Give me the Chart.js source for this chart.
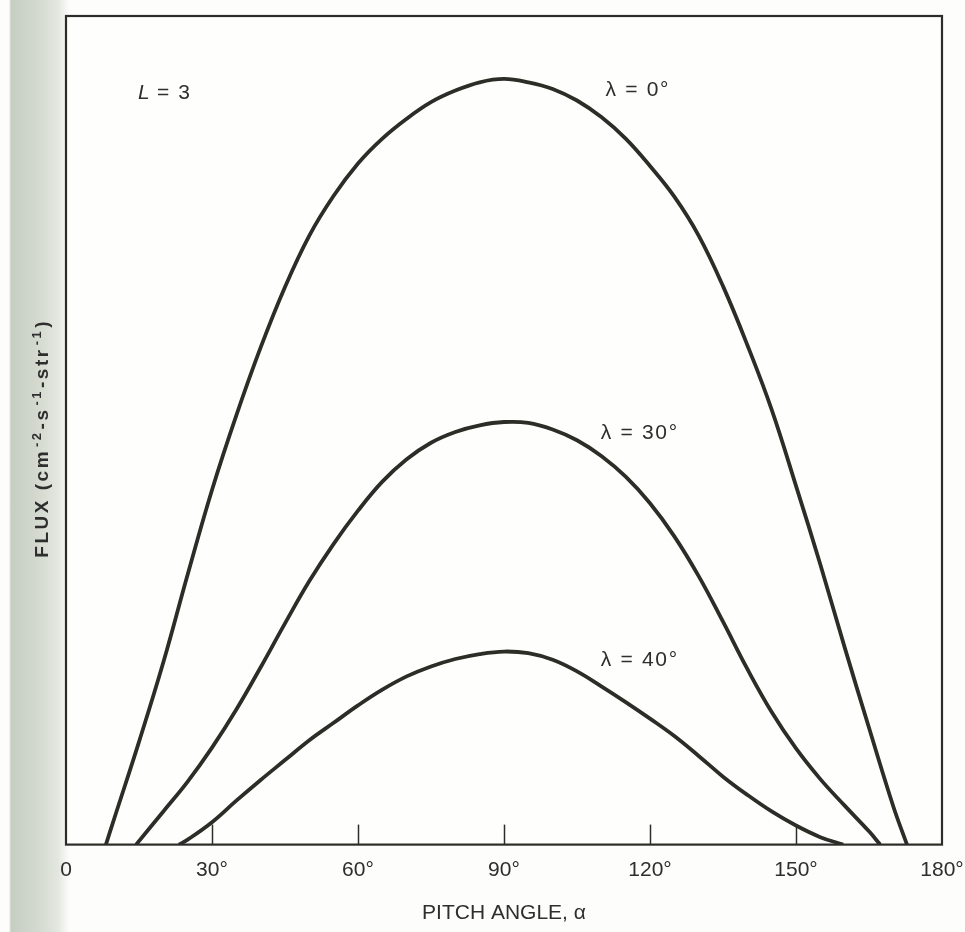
<!DOCTYPE html>
<html lang="en">
<head>
    <meta charset="UTF-8">
    <title>Pitch Angle Distribution</title>
    <script src="https://cdn.jsdelivr.net/npm/chart.js"></script>
    <style>
        body {
            margin: 0;
            background: linear-gradient(to right, #fdfdfb 0px, #fdfdfb 9px, #c6cdc2 11px, #d2d8ce 35px, #e3e7df 58px, #f6f7f3 66px, #fdfdfb 70px);
        }
        #wrap {
            width: 965px;
            height: 932px;
            position: relative;
        }
    </style>
</head>
<body>
    <div id="wrap"><canvas id="fluxChart"></canvas></div>

    <script>
        // pitch angle (deg) and flux, one pair of arrays per curve
        const angles0 = [8.2, 10, 15, 20, 25, 30, 35, 40, 45, 50, 55, 60, 65, 70, 75, 80, 85, 90, 95, 100, 105, 110, 115, 120, 125, 130, 135, 140, 145, 150, 155, 160, 165, 170, 172.8];
        const flux0 = [0, 3.3, 12.4, 22.0, 32.6, 42.8, 51.8, 60.0, 67.3, 73.5, 78.3, 82.2, 85.2, 87.6, 89.6, 91.0, 92.0, 92.4, 92.0, 91.2, 89.8, 87.8, 85.2, 81.9, 78.2, 73.5, 67.4, 60.3, 52.5, 43.3, 33.8, 23.8, 14.1, 4.6, 0];

        const angles30 = [14.4, 20, 25, 30, 35, 40, 45, 50, 55, 60, 65, 70, 75, 80, 85, 90, 95, 100, 105, 110, 115, 120, 125, 130, 135, 140, 145, 150, 155, 160, 165, 167.3];
        const flux30 = [0, 4.0, 7.6, 11.7, 16.3, 21.4, 26.7, 31.8, 36.3, 40.3, 43.8, 46.5, 48.5, 49.8, 50.6, 51.0, 50.9, 50.1, 48.8, 46.9, 44.4, 41.2, 37.2, 32.4, 26.9, 21.2, 16.0, 11.6, 7.9, 4.7, 1.6, 0];

        const angles40 = [23.2, 25, 30, 35, 40, 45, 50, 55, 60, 65, 70, 75, 80, 85, 90, 95, 100, 105, 110, 115, 120, 125, 130, 135, 140, 145, 150, 155, 159.7];
        const flux40 = [0, 0.6, 2.7, 5.3, 7.8, 10.2, 12.6, 14.7, 16.8, 18.7, 20.3, 21.5, 22.4, 23.0, 23.3, 23.1, 22.3, 20.9, 19.1, 17.2, 15.2, 13.1, 10.7, 8.2, 6.0, 4.0, 2.3, 0.9, 0];

        const seriesNames = ['λ = 0°', 'λ = 30°', 'λ = 40°'];
        const xTicks = [0, 30, 60, 90, 120, 150, 180];
        const xTickLabels = ['0', '30°', '60°', '90°', '120°', '150°', '180°'];

        const FONT = "'Liberation Sans', Arial, sans-serif";
        const INK = '#2d2d28';
        const TEXT = '#2e2e2e';

        function points(xs, ys) {
            return xs.map((x, i) => ({ x: x, y: ys[i] }));
        }

        // white plot area, frame, inward ticks and in-plot labels
        const decor = {
            id: 'decor',
            beforeDatasetsDraw(chart) {
                const { ctx, chartArea: a } = chart;
                ctx.save();
                ctx.fillStyle = '#fefefc';
                ctx.fillRect(a.left, a.top, a.right - a.left, a.bottom - a.top);
                ctx.restore();
            },
            afterDatasetsDraw(chart) {
                const { ctx, chartArea: a, scales } = chart;
                const xs = scales.x, ys = scales.y;
                ctx.save();
                ctx.strokeStyle = INK;
                ctx.lineWidth = 2.2;
                ctx.strokeRect(a.left, a.top, a.right - a.left, a.bottom - a.top);

                // ticks pointing up into the plot
                ctx.lineWidth = 1.5;
                xTicks.slice(1, -1).forEach(v => {
                    const px = Math.round(xs.getPixelForValue(v)) + 0.5;
                    ctx.beginPath();
                    ctx.moveTo(px, a.bottom);
                    ctx.lineTo(px, a.bottom - 20);
                    ctx.stroke();
                });

                // curve labels
                ctx.fillStyle = TEXT;
                ctx.font = '21px ' + FONT;
                ctx.letterSpacing = '1.7px';
                ctx.textAlign = 'center';
                ctx.textBaseline = 'middle';
                const labelPos = [[117.5, 91.1], [117.9, 49.6], [117.9, 22.2]];
                seriesNames.forEach((name, i) => {
                    ctx.fillText(name, xs.getPixelForValue(labelPos[i][0]), ys.getPixelForValue(labelPos[i][1]));
                });

                // L = 3
                ctx.textAlign = 'left';
                const lx = xs.getPixelForValue(14.8), ly = ys.getPixelForValue(90.7);
                ctx.letterSpacing = '0px';
                ctx.font = 'italic 21px ' + FONT;
                ctx.fillText('L', lx, ly);
                const lw = ctx.measureText('L').width;
                ctx.font = '21px ' + FONT;
                ctx.letterSpacing = '1.5px';
                ctx.fillText(' = 3', lx + lw, ly);

                // y title with superscripts
                const parts = [['FLUX (cm', false], ['-2', true], ['-s', false], ['-1', true], ['-str', false], ['-1', true], [')', false]];
                const big = 'bold 19px ' + FONT, small = 'bold 13px ' + FONT;
                ctx.letterSpacing = '2.5px';
                let total = 0;
                parts.forEach(p => {
                    ctx.font = p[1] ? small : big;
                    total += ctx.measureText(p[0]).width + (p[1] ? 3 : 0);
                });
                ctx.translate(41, (a.top + a.bottom) / 2 + 8);
                ctx.rotate(-Math.PI / 2);
                ctx.textBaseline = 'alphabetic';
                let cx = -total / 2;
                parts.forEach(p => {
                    ctx.font = p[1] ? small : big;
                    if (p[1]) cx += 2;
                    ctx.fillText(p[0], cx, p[1] ? 0 : 7);
                    cx += ctx.measureText(p[0]).width + (p[1] ? 1 : 0);
                });
                ctx.restore();
            }
        };

        const ctx = document.getElementById('fluxChart').getContext('2d');
        new Chart(ctx, {
            type: 'line',
            data: {
                datasets: [
                    { label: seriesNames[0], data: points(angles0, flux0) },
                    { label: seriesNames[1], data: points(angles30, flux30) },
                    { label: seriesNames[2], data: points(angles40, flux40) }
                ].map(d => Object.assign(d, {
                    borderColor: INK,
                    borderWidth: 3.8,
                    pointRadius: 0,
                    fill: false,
                    tension: 0.4
                }))
            },
            options: {
                responsive: true,
                maintainAspectRatio: false,
                animation: false,
                layout: { padding: { left: 66, right: 23, top: 16, bottom: 2 } },
                plugins: {
                    legend: { display: false },
                    tooltip: { enabled: false }
                },
                scales: {
                    x: {
                        type: 'linear',
                        min: 0,
                        max: 180,
                        afterBuildTicks: axis => { axis.ticks = xTicks.map(v => ({ value: v })); },
                        // tick marks are drawn inside by the plugin; tickLength only spaces the labels
                        grid: { display: false, drawTicks: true, tickLength: 13 },
                        border: { display: false },
                        ticks: {
                            padding: 0,
                            color: TEXT,
                            font: { family: FONT, size: 21 },
                            maxRotation: 0,
                            callback: (v) => xTickLabels[xTicks.indexOf(v)]
                        },
                        title: {
                            display: true,
                            text: 'PITCH ANGLE, α',
                            color: TEXT,
                            font: { family: FONT, size: 21 },
                            padding: { top: 18, bottom: 4 }
                        }
                    },
                    y: {
                        display: false,
                        min: 0,
                        max: 100
                    }
                }
            },
            plugins: [decor]
        });
    </script>
</body>
</html>
